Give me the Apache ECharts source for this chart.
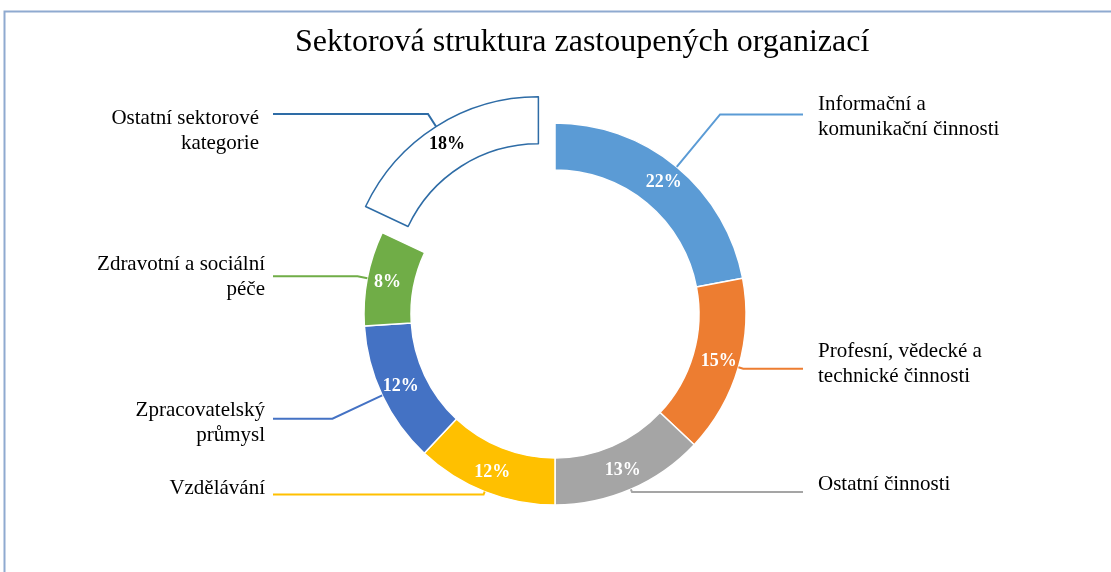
<!DOCTYPE html>
<html>
<head>
<meta charset="utf-8">
<script src="https://cdn.jsdelivr.net/npm/echarts@6/dist/echarts.min.js"></script>
<style>
html,body{margin:0;padding:0;background:#fff;}
#chart{width:1111px;height:572px;}
</style>
</head>
<body>
<div id="chart"></div>
<script>
var titleText = 'Sektorová struktura zastoupených organizací';
var categories = [
  'Informační a\nkomunikační činnosti',
  'Profesní, vědecké a\ntechnické činnosti',
  'Ostatní činnosti',
  'Vzdělávání',
  'Zpracovatelský\nprůmysl',
  'Zdravotní a sociální\npéče',
  'Ostatní sektorové\nkategorie'
];
var shares = [22, 15, 13, 12, 12, 8, 18];
var colors = ['#5B9BD5', '#ED7D31', '#A5A5A5', '#FFC000', '#4472C4', '#70AD47', '#FFFFFF'];
var explodedIndex = 6;

// styling per slice (leader line first segment length, label vertical nudge, label gap)
var lineLen1 = [68, 5, 3, 3, 55, 10, 15];
var labelNudge = [3, -5, -8, -6, 4, 1, 17];
var labelGap = [15, 15, 15, 8, 8, 8, 14];

var FONT = '"Liberation Serif", "Times New Roman", serif';
var outlineColor = '#2E6CA6';
var CX = 555, CY = 314;
var SEL_OFFSET = 31;
var LINE_END_RIGHT = 803, LINE_END_LEFT = 273;

// offset vector of the exploded slice, derived from the data
var total = shares.reduce(function (a, b) { return a + b; }, 0);
var before = 0;
for (var k = 0; k < explodedIndex; k++) before += shares[k];
var midFrac = (before + shares[explodedIndex] / 2) / total;
var midRad = (90 - midFrac * 360) * Math.PI / 180;
var explodeDx = SEL_OFFSET * Math.cos(midRad);
var explodeDy = -SEL_OFFSET * Math.sin(midRad);

var innerData = categories.map(function (name, i) {
  var d = {
    name: name,
    value: shares[i],
    itemStyle: { color: colors[i], borderColor: '#ffffff', borderWidth: 1.5 }
  };
  if (i === explodedIndex) {
    d.selected = true;
    d.itemStyle = { color: '#ffffff', borderColor: outlineColor, borderWidth: 1.5 };
    d.label = { color: '#000000' };
  }
  return d;
});

var outerData = categories.map(function (name, i) {
  return {
    name: name,
    value: shares[i],
    labelLine: {
      length: lineLen1[i],
      length2: 10,
      lineStyle: { color: i === explodedIndex ? outlineColor : colors[i], width: 2 }
    }
  };
});

var chart = echarts.init(document.getElementById('chart'), null, { renderer: 'canvas' });
chart.setOption({
  animation: false,
  backgroundColor: '#ffffff',
  title: {
    text: titleText,
    left: 290,
    top: 22,
    textStyle: { fontFamily: FONT, fontSize: 32, fontWeight: 'normal', color: '#000000' }
  },
  graphic: [{
    type: 'rect',
    shape: { x: 4.5, y: 11.5, width: 1200, height: 700 },
    style: { fill: 'none', stroke: '#8FAAD0', lineWidth: 2 },
    silent: true
  }],
  series: [
    {
      type: 'pie',
      center: [CX, CY],
      radius: [144, 191],
      startAngle: 90,
      clockwise: true,
      selectedMode: 'single',
      selectedOffset: SEL_OFFSET,
      silent: true,
      avoidLabelOverlap: false,
      label: {
        show: true,
        position: 'inside',
        formatter: '{c}%',
        fontFamily: FONT,
        fontSize: 18,
        fontWeight: 'bold',
        color: '#ffffff'
      },
      labelLine: { show: false },
      data: innerData,
      z: 2
    },
    {
      type: 'pie',
      center: [CX, CY],
      radius: [144, 191],
      startAngle: 90,
      clockwise: true,
      selectedMode: false,
      silent: true,
      avoidLabelOverlap: false,
      itemStyle: { color: 'rgba(0,0,0,0)', borderWidth: 0 },
      label: {
        show: true,
        position: 'outside',
        formatter: '{b}',
        fontFamily: FONT,
        fontSize: 21,
        lineHeight: 25,
        color: '#000000'
      },
      labelLine: { show: true, smooth: false },
      labelLayout: function (p) {
        var pts = p.labelLinePoints;
        if (!pts) return {};
        var dx = 0, dy = 0;
        if (p.dataIndex === explodedIndex) { dx = explodeDx; dy = explodeDy; }
        var p0 = [pts[0][0] + dx, pts[0][1] + dy];
        var p1 = [pts[1][0] + dx, pts[1][1] + dy];
        var isRight = p1[0] >= CX;
        var endX = isRight ? LINE_END_RIGHT : LINE_END_LEFT;
        var gap = labelGap[p.dataIndex];
        return {
          x: isRight ? endX + gap : endX - gap,
          y: p1[1] + labelNudge[p.dataIndex],
          align: isRight ? 'left' : 'right',
          verticalAlign: 'middle',
          labelLinePoints: [p0, p1, [endX, p1[1]]]
        };
      },
      data: outerData,
      z: 3
    }
  ]
});
</script>
</body>
</html>
